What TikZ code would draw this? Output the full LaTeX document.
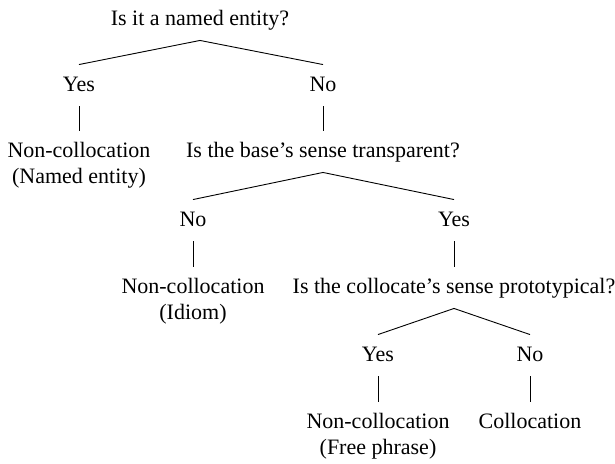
\documentclass[tikz,border=0pt]{standalone}
\usepackage{fontspec}
\setmainfont{Liberation Serif}
\begin{document}
\begin{tikzpicture}[x=1pt,y=-1pt, line width=0.9pt,
    every node/.style={font=\fontsize{22}{26}\selectfont, anchor=base,
      inner xsep=0pt, inner ysep=10pt, text height=16pt, text depth=5pt},
    leaf/.style={align=center, text height={}, text depth={}}]
  \useasboundingbox (0,0) rectangle (615,463);
  % Questions and answers
  \node (named) at (200,25) {Is it a named entity?};
  \node (namedyes) at (79,91) {Yes};
  \node (namedno) at (323,91) {No};
  \node [leaf] (entity) at (79,183) {Non-collocation\\(Named entity)};
  \node (base) at (323,157) {Is the base's sense transparent?};
  \node (baseno) at (193,226) {No};
  \node (baseyes) at (454,226) {Yes};
  \node [leaf] (idiom) at (193,319) {Non-collocation\\(Idiom)};
  \node (colloc) at (454,293) {Is the collocate's sense prototypical?};
  \node (collocyes) at (378,361) {Yes};
  \node (collocno) at (530,361) {No};
  \node [leaf] (free) at (378,454) {Non-collocation\\(Free phrase)};
  \node [leaf] (collocation) at (530,428) {Collocation};
  % Branches
  \draw (namedyes.north) -- (named.south) -- (namedno.north);
  \draw (namedyes) -- (entity);
  \draw (namedno) -- (base);
  \draw (baseno.north) -- (base.south) -- (baseyes.north);
  \draw (baseno) -- (idiom);
  \draw (baseyes) -- (colloc);
  \draw (collocyes.north) -- (colloc.south) -- (collocno.north);
  \draw (collocyes) -- (free);
  \draw (collocno) -- (collocation);
\end{tikzpicture}
\end{document}
